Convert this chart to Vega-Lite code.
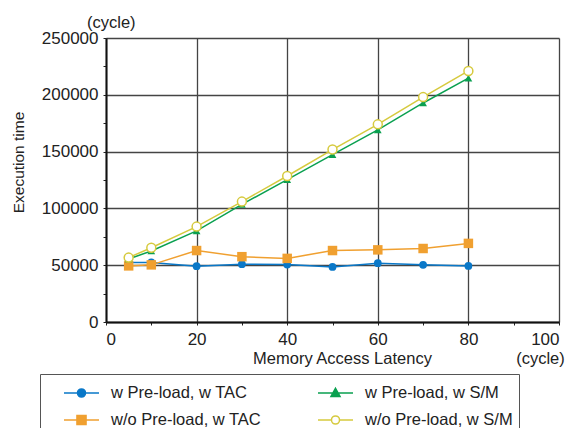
{
  "$schema": "https://vega.github.io/schema/vega-lite/v6.json",
  "width": 453,
  "height": 284,
  "autosize": {"type": "none"},
  "padding": {"left": 106, "top": 38, "right": 17, "bottom": 106},
  "background": "white",
  "config": {
    "font": "Liberation Sans",
    "view": {"stroke": null},
    "axis": {"labelColor": "#222", "titleColor": "#222", "titleFontWeight": "normal"}
  },
  "title": {"text": "(cycle)", "anchor": "start", "frame": "group", "dx": -19, "dy": 20, "offset": 2, "baseline": "bottom", "fontSize": 16.5, "fontWeight": "normal", "color": "#222"},
  "data": {"values": [
    {"latency": 5, "time": 52400, "series": "w Pre-load, w TAC"},
    {"latency": 10, "time": 52400, "series": "w Pre-load, w TAC"},
    {"latency": 20, "time": 49100, "series": "w Pre-load, w TAC"},
    {"latency": 30, "time": 50900, "series": "w Pre-load, w TAC"},
    {"latency": 40, "time": 50600, "series": "w Pre-load, w TAC"},
    {"latency": 50, "time": 48500, "series": "w Pre-load, w TAC"},
    {"latency": 60, "time": 51800, "series": "w Pre-load, w TAC"},
    {"latency": 70, "time": 50300, "series": "w Pre-load, w TAC"},
    {"latency": 80, "time": 49400, "series": "w Pre-load, w TAC"},
    {"latency": 5, "time": 49400, "series": "w/o Pre-load, w TAC"},
    {"latency": 10, "time": 50300, "series": "w/o Pre-load, w TAC"},
    {"latency": 20, "time": 62900, "series": "w/o Pre-load, w TAC"},
    {"latency": 30, "time": 57500, "series": "w/o Pre-load, w TAC"},
    {"latency": 40, "time": 56000, "series": "w/o Pre-load, w TAC"},
    {"latency": 50, "time": 62900, "series": "w/o Pre-load, w TAC"},
    {"latency": 60, "time": 63500, "series": "w/o Pre-load, w TAC"},
    {"latency": 70, "time": 64700, "series": "w/o Pre-load, w TAC"},
    {"latency": 80, "time": 69200, "series": "w/o Pre-load, w TAC"},
    {"latency": 5, "time": 55500, "series": "w Pre-load, w S/M"},
    {"latency": 10, "time": 62500, "series": "w Pre-load, w S/M"},
    {"latency": 20, "time": 80200, "series": "w Pre-load, w S/M"},
    {"latency": 30, "time": 103500, "series": "w Pre-load, w S/M"},
    {"latency": 40, "time": 125300, "series": "w Pre-load, w S/M"},
    {"latency": 50, "time": 147400, "series": "w Pre-load, w S/M"},
    {"latency": 60, "time": 169200, "series": "w Pre-load, w S/M"},
    {"latency": 70, "time": 192800, "series": "w Pre-load, w S/M"},
    {"latency": 80, "time": 214600, "series": "w Pre-load, w S/M"},
    {"latency": 5, "time": 56700, "series": "w/o Pre-load, w S/M"},
    {"latency": 10, "time": 65400, "series": "w/o Pre-load, w S/M"},
    {"latency": 20, "time": 84000, "series": "w/o Pre-load, w S/M"},
    {"latency": 30, "time": 106000, "series": "w/o Pre-load, w S/M"},
    {"latency": 40, "time": 128500, "series": "w/o Pre-load, w S/M"},
    {"latency": 50, "time": 151800, "series": "w/o Pre-load, w S/M"},
    {"latency": 60, "time": 174000, "series": "w/o Pre-load, w S/M"},
    {"latency": 70, "time": 198000, "series": "w/o Pre-load, w S/M"},
    {"latency": 80, "time": 221000, "series": "w/o Pre-load, w S/M"}
  ]},
  "encoding": {
    "y": {
      "field": "time", "type": "quantitative",
      "scale": {"domain": [0, 250000], "nice": false},
      "axis": {
        "values": [0, 25000, 50000, 75000, 100000, 125000, 150000, 175000, 200000, 225000, 250000],
        "format": "d",
        "labelExpr": "datum.value % 50000 === 0 ? datum.label : ''",
        "gridOpacity": {"condition": {"test": "datum.value % 50000 !== 0", "value": 0}, "value": 1},
        "gridColor": "#444", "gridWidth": 1.3,
        "domainColor": "#111", "domainWidth": 2,
        "tickColor": "#222", "tickSize": 3,
        "labelFontSize": 17, "labelPadding": 5,
        "title": "Execution time", "titleFontSize": 15.5,
        "titleX": -88, "titleY": 124, "titleAngle": -90, "titleAlign": "center", "titleBaseline": "middle"
      }
    }
  },
  "layer": [
    {
      "mark": {"type": "line", "strokeWidth": 1.5},
      "encoding": {
        "x": {
          "field": "latency", "type": "quantitative",
          "scale": {"domain": [0, 100], "nice": false},
          "axis": {
            "orient": "bottom",
            "values": [0, 10, 20, 30, 40, 50, 60, 70, 80, 90, 100],
            "labelExpr": "datum.value % 20 === 0 ? datum.label : ''",
            "gridOpacity": {"condition": {"test": "datum.value % 20 !== 0", "value": 0}, "value": 1},
            "gridColor": "#444", "gridWidth": 1.3,
            "domainColor": "#111", "domainWidth": 2,
            "tickColor": "#222", "tickSize": 3,
            "labelFontSize": 17, "labelPadding": 6,
            "title": "Memory Access Latency", "titleFontSize": 16.5,
            "titleX": 236, "titleY": 36, "titleAlign": "center", "titleBaseline": "middle"
          }
        },
        "stroke": {
          "field": "series", "type": "nominal",
          "scale": {
            "domain": ["w Pre-load, w TAC", "w/o Pre-load, w TAC", "w Pre-load, w S/M", "w/o Pre-load, w S/M"],
            "range": ["#0a78c8", "#f0a030", "#0aa050", "#d6ca3e"]
          },
          "legend": {
            "title": null,
            "orient": "none", "legendX": -66, "legendY": 336,
            "columns": 2, "strokeColor": "#555", "fillColor": "white",
            "padding": 6, "rowPadding": 1, "columnPadding": 38,
            "clipHeight": 26, "symbolSize": 1225, "symbolStrokeWidth": 1.5, "symbolOffset": 17,
            "labelFontSize": 16.5, "labelOffset": 11, "labelColor": "#222", "labelLimit": 300,
            "encode": {
              "symbols": {
                "update": {
                  "shape": {"signal": "({'w Pre-load, w TAC': 'M-1,0H1M0.23,0A0.23,0.23,0,1,1,-0.23,0A0.23,0.23,0,1,1,0.23,0Z', 'w Pre-load, w S/M': 'M-1,0H1M0,-0.27L0.26,0.2H-0.26ZM12.4,0', 'w/o Pre-load, w TAC': 'M-1,0H1M-0.26,-0.26H0.26V0.26H-0.26Z', 'w/o Pre-load, w S/M': 'M-1,0H-0.23M0.23,0H1M0.23,0A0.23,0.23,0,1,1,-0.23,0A0.23,0.23,0,1,1,0.23,0ZM12.4,0'})[datum.value]"},
                  "fill": {"signal": "({'w Pre-load, w TAC': '#0a78c8', 'w Pre-load, w S/M': '#0aa050', 'w/o Pre-load, w TAC': '#f0a030', 'w/o Pre-load, w S/M': 'white'})[datum.value]"},
                  "opacity": {"value": 1}
                }
              }
            }
          }
        }
      }
    },
    {
      "transform": [{"filter": "datum.series === 'w Pre-load, w TAC'"}],
      "mark": {"type": "point", "shape": "circle", "size": 60, "filled": true, "color": "#0a78c8", "opacity": 1},
      "encoding": {
        "x": {
          "field": "latency", "type": "quantitative",
          "axis": {
            "orient": "bottom",
            "title": "(cycle)", "labels": false, "ticks": false, "domain": false, "grid": false,
            "titleFontSize": 16.5, "titleX": 434, "titleY": 36, "titleAlign": "center", "titleBaseline": "middle"
          }
        }
      }
    },
    {
      "transform": [{"filter": "datum.series === 'w/o Pre-load, w TAC'"}],
      "mark": {"type": "point", "shape": "square", "size": 90, "filled": true, "color": "#f0a030", "opacity": 1},
      "encoding": {"x": {"field": "latency", "type": "quantitative", "axis": null}}
    },
    {
      "transform": [{"filter": "datum.series === 'w Pre-load, w S/M'"}],
      "mark": {"type": "point", "shape": "triangle-up", "size": 60, "filled": true, "color": "#0aa050", "opacity": 1},
      "encoding": {"x": {"field": "latency", "type": "quantitative", "axis": null}}
    },
    {
      "transform": [{"filter": "datum.series === 'w/o Pre-load, w S/M'"}],
      "mark": {"type": "point", "shape": "circle", "size": 80, "filled": false, "fill": "white", "fillOpacity": 1, "stroke": "#d6ca3e", "strokeWidth": 1.5, "opacity": 1},
      "encoding": {"x": {"field": "latency", "type": "quantitative", "axis": null}}
    }
  ],
  "resolve": {"axis": {"x": "independent"}}
}
